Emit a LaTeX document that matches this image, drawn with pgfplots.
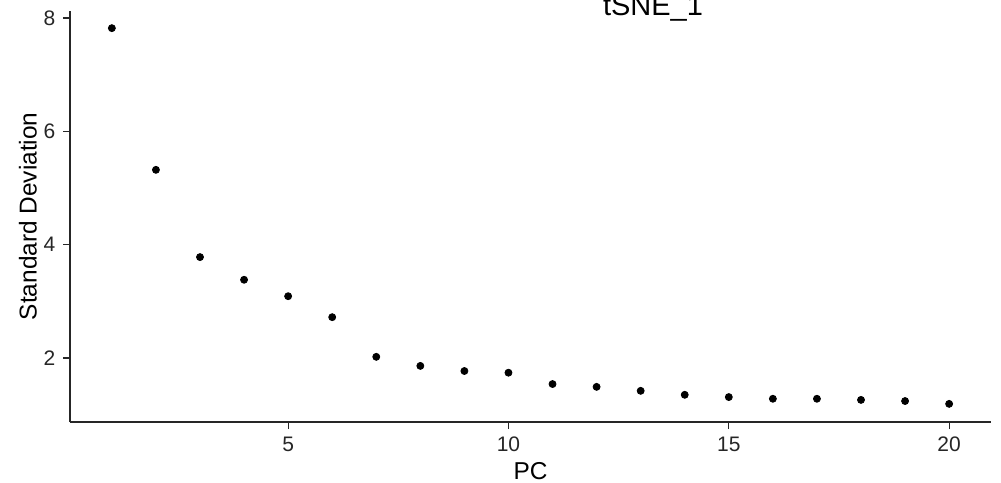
\documentclass[border=0pt]{standalone}
\usepackage{pgfplots}
\pgfplotsset{compat=1.18}
\usepackage{fontspec}
\setmainfont{Liberation Sans}
\begin{document}
\begin{tikzpicture}[x=1pt,y=1pt]
\useasboundingbox (0,0) rectangle (500.5,-241);
\begin{axis}[
  at={(35pt,-211pt)}, anchor=south west,
  scale only axis, width=460.5pt, height=205.7pt,
  xmin=0.05, xmax=20.95, ymin=0.87, ymax=8.13,
  axis lines*=left,
  axis line style={line width=0.6pt, color=black!85, -},
  xtick={5,10,15,20}, ytick={2,4,6,8},
  tick style={line width=0.6pt, color=black!85},
  tick align=outside, major tick length=3.5pt,
  tick label style={font=\fontsize{10.5}{12}\selectfont, color=black!85},
  /pgf/number format/assume math mode=true,
  xticklabel style={yshift=-0.3pt},
  yticklabel style={xshift=-0.3pt},
  xlabel={PC}, ylabel={Standard Deviation},
  label style={font=\fontsize{12.2}{14}\selectfont},
  xlabel style={at={(axis description cs:0.5,0)}, anchor=center, yshift=-24.5pt},
  ylabel style={at={(axis description cs:-0.0456,0.5)}, anchor=center},
  clip=false,
]
\addplot[only marks, mark=*, mark size=1.75pt, color=black] coordinates {
(1,7.82) (2,5.32) (3,3.78) (4,3.38) (5,3.09) (6,2.72) (7,2.02) (8,1.86)
(9,1.77) (10,1.74) (11,1.54) (12,1.49) (13,1.42) (14,1.35) (15,1.31)
(16,1.28) (17,1.28) (18,1.26) (19,1.24) (20,1.19)
};
\end{axis}
\node[anchor=base, font=\fontsize{14.5}{16}\selectfont] at (326.5,-7.5) {tSNE\_1};
\end{tikzpicture}
\end{document}
